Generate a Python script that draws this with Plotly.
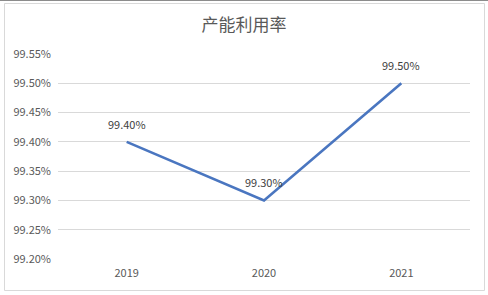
import plotly.graph_objects as go

years = ["2019", "2020", "2021"]
rates = [99.40, 99.30, 99.50]
labels = ["99.40%", "99.30%", "99.50%"]
title_text = "产能利用率"

FONT = "Noto Sans CJK SC"
GREY = "#595959"

W, H = 488, 295
L, R, T, B = 58, 18, 54, 36
pw, ph = W - L - R, H - T - B

def px_x(p):
    return (p - L) / pw

def px_y(p):
    return (H - B - p) / ph

fig = go.Figure()
fig.add_trace(go.Scatter(
    x=list(range(len(years))), y=rates, mode="lines",
    line=dict(color="#4A76C0", width=2.6), hoverinfo="skip", showlegend=False,
))
for i, (v, t) in enumerate(zip(rates, labels)):
    fig.add_annotation(x=i, y=v, text=t, showarrow=False, yshift=18,
                       font=dict(family=FONT, size=11, color="#404040"))

fig.update_layout(
    width=W, height=H,
    margin=dict(l=L, r=R, t=T, b=B),
    paper_bgcolor="white", plot_bgcolor="white",
    title=dict(text=title_text, x=244 / W, xref="container", xanchor="center",
               y=1 - 25 / H, yanchor="middle",
               font=dict(family=FONT, size=17, color=GREY)),
    xaxis=dict(range=[-0.5, 2.5], tickmode="array",
               tickvals=list(range(len(years))), ticktext=years,
               showgrid=False, zeroline=False, showline=False, ticks="",
               ticklabelstandoff=6,
               tickfont=dict(family=FONT, size=11, color=GREY)),
    yaxis=dict(range=[99.20, 99.55], dtick=0.05, tick0=99.20,
               tickformat=".2f", ticksuffix="%",
               showgrid=True, gridcolor="#D9D9D9", gridwidth=1,
               zeroline=False, showline=False, ticks="",
               ticklabelstandoff=6,
               tickfont=dict(family=FONT, size=11, color=GREY)),
    shapes=[
        dict(type="rect", xref="paper", yref="paper",
             x0=px_x(4.5), x1=px_x(484.5), y0=px_y(290.5), y1=px_y(3.5),
             line=dict(color="#D9D9D9", width=1), fillcolor="rgba(0,0,0,0)", layer="below"),
        dict(type="line", xref="paper", yref="paper",
             x0=px_x(0), x1=px_x(488), y0=px_y(0.5), y1=px_y(0.5),
             line=dict(color="#8C8C8C", width=1)),
    ],
)

fig.write_html("out.html")
